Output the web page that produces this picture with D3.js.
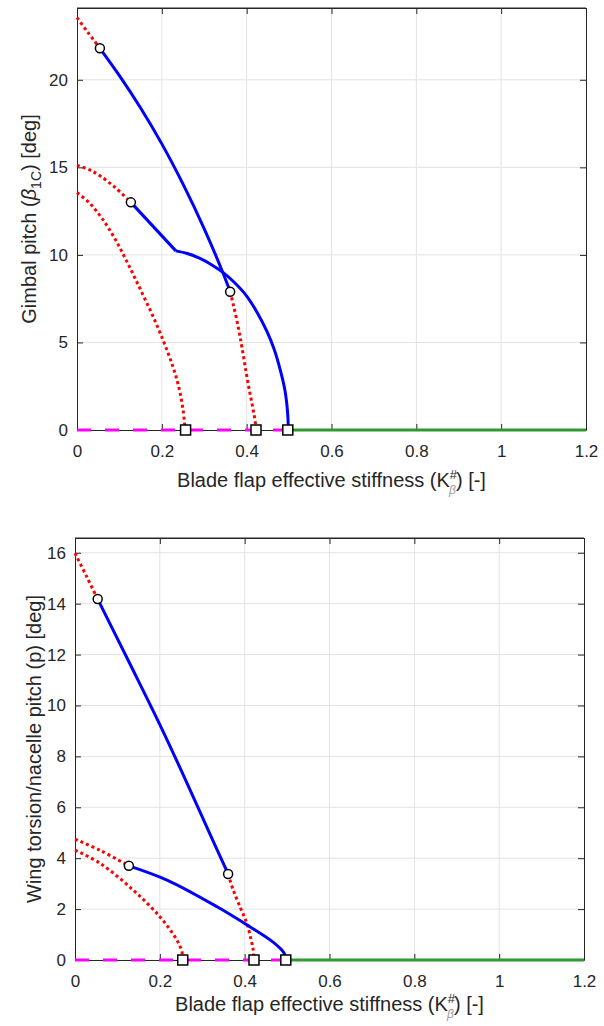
<!DOCTYPE html>
<html>
    <head>
        <meta charset="utf-8">
        <script type="text/javascript" src="https://d3js.org/d3.v7.min.js"></script>
        <style>
            html, body {
                margin: 0;
                padding: 0;
                background: #fff;
                font-family: "Liberation Sans", Arial, sans-serif;
            }
            svg .tick text {
                font-size: 17px;
                fill: #262626;
            }
            svg .label {
                font-size: 20px;
                fill: #262626;
            }
            svg .grid line {
                stroke: #e3e3e3;
                stroke-width: 1;
            }
        </style>
    </head>
    <body>
        <div id="chart"></div>

        <script>
            var xTicks = [0, 0.2, 0.4, 0.6, 0.8, 1, 1.2];

            // top panel: gimbal pitch
            var topYTicks = [0, 5, 10, 15, 20];
            var topRedA = [[0, 23.55], [0.026, 22.7], [0.054, 21.8]];
            var topBlueA = [[0.054, 21.8], [0.10, 20.24], [0.15, 18.39], [0.20, 16.34], [0.25, 14.04],
                            [0.30, 11.49], [0.344, 8.98], [0.361, 7.9]];
            var topRedB = [[0.361, 7.9], [0.368, 7.2], [0.38, 5.9], [0.389, 4.7], [0.403, 2.7],
                           [0.415, 1.2], [0.42, 0.5], [0.422, 0]];
            var topRedC = [[0, 15.12], [0.03, 14.85], [0.054, 14.52], [0.09, 13.85], [0.127, 13.0]];
            var topBlueB1 = [[0.127, 13.0], [0.233, 10.23]];
            var topBlueB2 = [[0.233, 10.23], [0.26, 10.08], [0.29, 9.8], [0.32, 9.4], [0.344, 9.0],
                             [0.37, 8.45], [0.40, 7.65], [0.425, 6.7], [0.448, 5.62], [0.465, 4.6],
                             [0.479, 3.45], [0.49, 2.3], [0.495, 1.4], [0.4975, 0.6], [0.498, 0]];
            var topRedD = [[0, 13.56], [0.03, 12.95], [0.06, 12.05], [0.09, 10.9], [0.12, 9.5],
                           [0.15, 8.0], [0.18, 6.45], [0.205, 5.0], [0.225, 3.7], [0.24, 2.45],
                           [0.25, 1.15], [0.255, 0]];
            var topCircles = [[0.054, 21.8], [0.127, 13.0], [0.361, 7.9]];
            var topSquares = [[0.256, 0], [0.422, 0], [0.497, 0]];

            // bottom panel: wing torsion / nacelle pitch
            var botYTicks = [0, 2, 4, 6, 8, 10, 12, 14, 16];
            var botRedA = [[0, 15.98], [0.0276, 15.06], [0.0535, 14.18]];
            var botBlueA = [[0.0535, 14.18], [0.13, 11.62], [0.2, 9.25], [0.26, 7.1], [0.31, 5.25],
                            [0.361, 3.38]];
            var botRedB = [[0.361, 3.38], [0.373, 2.75], [0.39, 2.05], [0.405, 1.45], [0.415, 0.8],
                           [0.42, 0.4], [0.422, 0]];
            var botRedC = [[0, 4.75], [0.06, 4.3], [0.127, 3.7]];
            var botBlueC = [[0.127, 3.7], [0.217, 3.14], [0.334, 2.1], [0.413, 1.3], [0.46, 0.79],
                            [0.487, 0.4], [0.495, 0.2], [0.497, 0]];
            var botRedD = [[0, 4.32], [0.059, 3.8], [0.137, 2.75], [0.2, 1.7], [0.24, 0.79],
                           [0.252, 0.33], [0.254, 0]];
            var botCircles = [[0.0535, 14.18], [0.127, 3.7], [0.361, 3.38]];
            var botSquares = [[0.254, 0], [0.422, 0], [0.497, 0]];

            var magentaX = [0, 0.497];
            var greenX = [0.497, 1.2];

            var svg = d3.select("#chart")
                .append("svg")
                    .attr("width", 604)
                    .attr("height", 1026);

            function panel(opt) {
                var width = opt.right - opt.left,
                    height = opt.bottom - opt.top;

                var xScale = d3.scaleLinear().domain([0, 1.2]).range([0, width]);
                var yScale = d3.scaleLinear().domain([0, opt.yMax]).range([height, 0]);

                var g = svg.append("g")
                    .attr("transform", "translate(" + opt.left + "," + opt.top + ")");

                // grid
                var grid = g.append("g").attr("class", "grid");
                grid.selectAll(".gx").data(xTicks.slice(1, -1)).enter().append("line")
                    .attr("x1", function(d) { return xScale(d); })
                    .attr("x2", function(d) { return xScale(d); })
                    .attr("y1", 0).attr("y2", height);
                grid.selectAll(".gy").data(opt.yTicks.slice(1)).enter().append("line")
                    .attr("y1", function(d) { return yScale(d); })
                    .attr("y2", function(d) { return yScale(d); })
                    .attr("x1", 0).attr("x2", width);

                // axes with inward ticks, box on all sides
                var axisColor = "#262626";
                function styleAxis(sel) {
                    sel.select(".domain").attr("stroke", axisColor).attr("stroke-width", 1);
                    sel.selectAll(".tick line").attr("stroke", axisColor);
                    sel.selectAll(".tick text").attr("font-family", null).attr("font-size", null);
                }
                g.append("g")
                    .attr("transform", "translate(0," + height + ")")
                    .call(d3.axisBottom(xScale).tickValues(xTicks).tickSizeInner(-6).tickSizeOuter(0)
                        .tickPadding(15).tickFormat(d3.format("")))
                    .call(styleAxis);
                g.append("g")
                    .call(d3.axisTop(xScale).tickValues(xTicks).tickSizeInner(-6).tickSizeOuter(0)
                        .tickFormat(""))
                    .call(styleAxis);
                g.append("g")
                    .call(d3.axisLeft(yScale).tickValues(opt.yTicks).tickSizeInner(-6).tickSizeOuter(0)
                        .tickPadding(9))
                    .call(styleAxis);
                g.append("g")
                    .attr("transform", "translate(" + width + ",0)")
                    .call(d3.axisRight(yScale).tickValues(opt.yTicks).tickSizeInner(-6).tickSizeOuter(0)
                        .tickFormat(""))
                    .call(styleAxis);
                g.append("line")
                    .attr("x1", 0).attr("x2", width).attr("y1", 0).attr("y2", 0)
                    .attr("stroke", axisColor);

                var smooth = d3.line()
                    .x(function(d) { return xScale(d[0]); })
                    .y(function(d) { return yScale(d[1]); })
                    .curve(d3.curveCatmullRom.alpha(0.5));

                // zero branches along the axis
                g.append("path")
                    .attr("d", smooth(magentaX.map(function(x) { return [x, 0]; })))
                    .attr("fill", "none").attr("stroke", "#ff00ff").attr("stroke-width", 3)
                    .attr("stroke-dasharray", "14,14");
                g.append("path")
                    .attr("d", smooth(greenX.map(function(x) { return [x, 0]; })))
                    .attr("fill", "none").attr("stroke", "#2e9a2e").attr("stroke-width", 3);

                opt.red.forEach(function(s) {
                    g.append("path")
                        .attr("d", smooth(s))
                        .attr("fill", "none").attr("stroke", "#ff0000").attr("stroke-width", 3)
                        .attr("stroke-dasharray", "3,3");
                });
                opt.blue.forEach(function(s) {
                    g.append("path")
                        .attr("d", smooth(s))
                        .attr("fill", "none").attr("stroke", "#0000ff").attr("stroke-width", 3)
                        .attr("stroke-linejoin", "round");
                });

                g.selectAll(".sq").data(opt.squares).enter().append("rect")
                    .attr("x", function(d) { return xScale(d[0]) - 5; })
                    .attr("y", function(d) { return yScale(d[1]) - 5; })
                    .attr("width", 10).attr("height", 10)
                    .attr("fill", "#fff").attr("stroke", "#000").attr("stroke-width", 1.5);
                g.selectAll(".ci").data(opt.circles).enter().append("circle")
                    .attr("cx", function(d) { return xScale(d[0]); })
                    .attr("cy", function(d) { return yScale(d[1]); })
                    .attr("r", 4.5)
                    .attr("fill", "#fff").attr("stroke", "#000").attr("stroke-width", 1.5);

                // x label
                var xl = g.append("text")
                    .attr("class", "label")
                    .attr("text-anchor", "middle")
                    .attr("x", width / 2)
                    .attr("y", height + opt.xLabelDy);
                xl.append("tspan").text("Blade flap effective stiffness (K");
                xl.append("tspan").attr("font-size", "13px").attr("dy", -8).text("#");
                xl.append("tspan").attr("font-size", "12px").attr("font-style", "italic")
                    .attr("fill", "#999").attr("dx", -8).attr("dy", 15).text("β");
                xl.append("tspan").attr("dy", -7).text(") [-]");

                // y label
                var yl = g.append("text")
                    .attr("class", "label")
                    .attr("text-anchor", "middle")
                    .attr("transform", "translate(" + (opt.yLabelX - opt.left) + "," + (height / 2) + ") rotate(-90)");
                opt.yLabel(yl);
            }

            panel({
                left: 77, right: 586, top: 8, bottom: 430,
                yMax: 24.1, yTicks: topYTicks, yLabelX: 36, xLabelDy: 57,
                red: [topRedA, topRedB, topRedC, topRedD],
                blue: [topBlueA, topBlueB1, topBlueB2],
                circles: topCircles, squares: topSquares,
                yLabel: function(t) {
                    t.append("tspan").text("Gimbal pitch (");
                    t.append("tspan").attr("font-style", "italic").text("β");
                    t.append("tspan").attr("font-size", "14px").attr("dy", 5).text("1C");
                    t.append("tspan").attr("dy", -5).text(") [deg]");
                }
            });

            panel({
                left: 75, right: 584, top: 538, bottom: 960,
                yMax: 16.58, yTicks: botYTicks, yLabelX: 41, xLabelDy: 51,
                red: [botRedA, botRedB, botRedC, botRedD],
                blue: [botBlueA, botBlueC],
                circles: botCircles, squares: botSquares,
                yLabel: function(t) {
                    t.append("tspan").text("Wing torsion/nacelle pitch (p) [deg]");
                }
            });
        </script>
    </body>
</html>
